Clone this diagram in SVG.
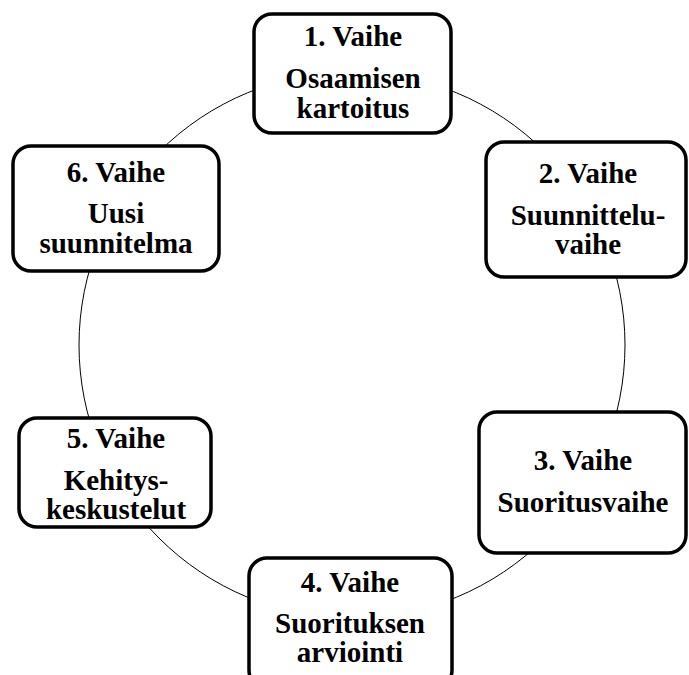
<svg xmlns="http://www.w3.org/2000/svg" width="689" height="675" viewBox="0 0 689 675">
<style>
.box{fill:#fff;stroke:#000;stroke-width:3.5}
.t{font-family:"Liberation Serif","Times New Roman",serif;font-weight:bold;font-size:29px;text-anchor:middle;fill:#000}
.ring{fill:none;stroke:#000;stroke-width:1}
</style>
<rect width="689" height="675" fill="#fff"/>
<g id="connectors">
<circle class="ring" cx="352" cy="345" r="273"/>
</g>
<g id="node1">
<rect class="box" x="254" y="14" width="197" height="119" rx="18"/>
<text class="t" x="353" y="46">1. Vaihe</text>
<text class="t" x="353" y="88">Osaamisen</text>
<text class="t" x="353" y="118">kartoitus</text>
</g>
<g id="node2">
<rect class="box" x="486" y="142" width="200" height="135" rx="18"/>
<text class="t" x="588" y="183">2. Vaihe</text>
<text class="t" x="588" y="225">Suunnittelu-</text>
<text class="t" x="588" y="254">vaihe</text>
</g>
<g id="node3">
<rect class="box" x="479" y="412" width="207" height="141" rx="18"/>
<text class="t" x="583" y="470">3. Vaihe</text>
<text class="t" x="583" y="512">Suoritusvaihe</text>
</g>
<g id="node4">
<rect class="box" x="249" y="558" width="203" height="130" rx="18"/>
<text class="t" x="350" y="592">4. Vaihe</text>
<text class="t" x="350" y="633">Suorituksen</text>
<text class="t" x="350" y="662">arviointi</text>
</g>
<g id="node5">
<rect class="box" x="19" y="418" width="192" height="109" rx="18"/>
<text class="t" x="116" y="448">5. Vaihe</text>
<text class="t" x="116" y="490">Kehitys-</text>
<text class="t" x="116" y="519">keskustelut</text>
</g>
<g id="node6">
<rect class="box" x="13" y="146" width="206" height="125" rx="18"/>
<text class="t" x="116" y="182">6. Vaihe</text>
<text class="t" x="116" y="223">Uusi</text>
<text class="t" x="116" y="253">suunnitelma</text>
</g>
</svg>
